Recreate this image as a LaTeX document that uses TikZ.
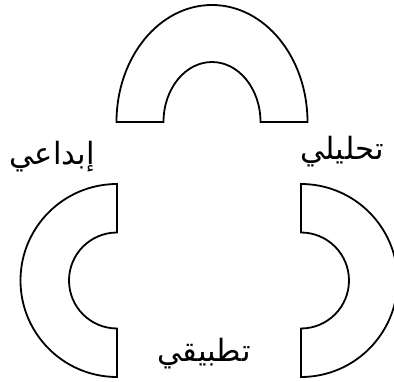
\documentclass[tikz,border=0pt]{standalone}
\usepackage{fontspec}
\newfontfamily\arabicfont[Script=Arabic]{DejaVu Sans}
\TeXXeTstate=1
\usetikzlibrary{positioning}

\tikzset{
  piece/.style={line width=1.35pt},
  thinking/.style={font=\arabicfont\fontsize{23}{26}\selectfont, inner sep=0pt}
}

\begin{document}
\begin{tikzpicture}[x=0.75pt,y=-0.75pt]
  \useasboundingbox (0,0) rectangle (394,382);
  % top arch
  \draw[piece] (116.5,122) arc[start angle=-180,end angle=0,x radius=95.5,y radius=117]
    -- (260.5,122) arc[start angle=0,end angle=-180,x radius=48.5,y radius=60] -- cycle;
  % left half ring
  \draw[piece] (117,184) arc[start angle=270,end angle=90,radius=96.5]
    -- (117,328.5) arc[start angle=90,end angle=270,radius=48] -- cycle;
  % right half ring
  \draw[piece] (301,184) arc[start angle=-90,end angle=90,radius=96.5]
    -- (301,328.5) arc[start angle=90,end angle=-90,radius=48] -- cycle;
  % labels
  \node[thinking] (creative) at (52,157) {\beginR إبداعي\endR};
  \node[thinking] (analytic) at (342,152) {\beginR تحليلي\endR};
  \node[thinking] (practical) at (204,354) {\beginR تطبيقي\endR};
\end{tikzpicture}
\end{document}
